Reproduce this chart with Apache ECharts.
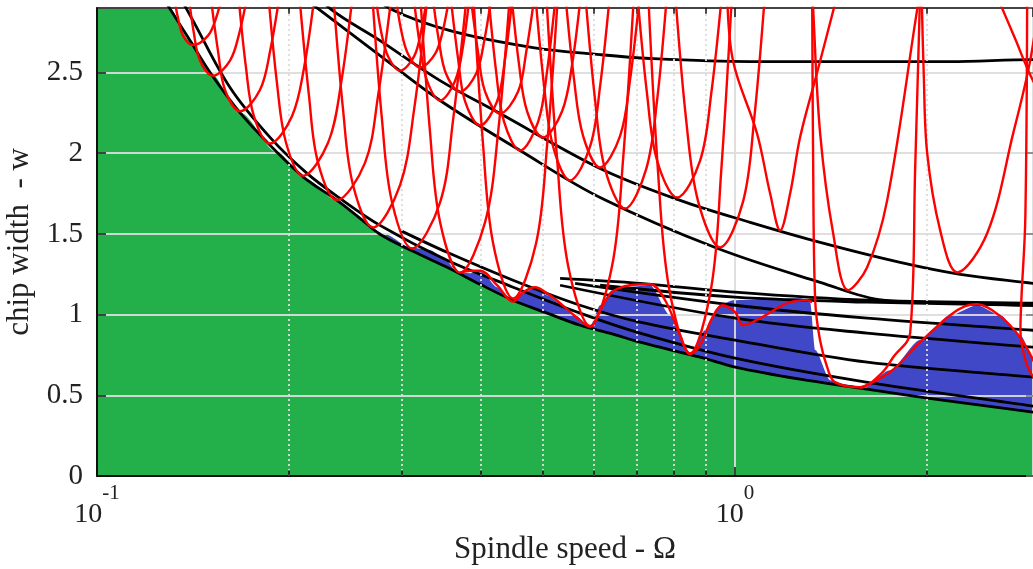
<!DOCTYPE html>
<html>
<head>
<meta charset="utf-8">
<script src="https://cdn.jsdelivr.net/npm/echarts@6/dist/echarts.min.js"></script>
<style>
html, body { margin: 0; padding: 0; background: #fff; }
#chart { width: 1033px; height: 569px; }
</style>
</head>
<body>
<div id="chart"></div>
<script>
// stability chart: spindle speed (log) vs chip width
var xMin = 0.1, xMax = 2.93, yMin = 0, yMax = 2.9, yStep = 0.5;
var minorX = [0.2, 0.3, 0.4, 0.5, 0.6, 0.7, 0.8, 0.9, 2];

// lower stability boundary (green below it)
var envelope = [[0.1253,3.0],[0.1301,2.896],[0.1399,2.698],[0.1504,2.5],[0.1675,2.252],[0.1916,2.005],[0.2118,1.844],[0.2378,1.708],[0.2584,1.597],[0.2777,1.498],[0.3128,1.392],[0.3537,1.293],[0.3984,1.188],[0.4487,1.089],[0.5074,1.009],[0.5716,0.934],[0.6438,0.879],[0.7098,0.829],[0.8814,0.736],[1.0,0.675],[1.264,0.600],[1.570,0.545],[2.0,0.483],[2.421,0.439],[2.93,0.396],[3.0,0.392]];

// top of the blue band
var blueTop = [[0.2448,1.634],[0.2650,1.547],[0.2828,1.498],[0.3095,1.417],[0.3326,1.399],[0.3486,1.355],[0.3680,1.262],[0.3843,1.256],[0.4013,1.262],[0.4236,1.170],[0.4488,1.089],[0.4653,1.132],[0.4859,1.170],[0.5074,1.120],[0.5318,1.071],[0.5614,0.996],[0.5926,0.928],[0.6144,1.058],[0.6416,1.151],[0.6724,1.170],[0.7359,1.182],[0.7910,0.996],[0.8502,0.749],[0.8975,0.903],[0.9474,1.058],[0.9929,1.089],[1.2645,1.101],[1.3110,1.077],[1.3349,0.780],[1.4091,0.594],[1.570,0.532],[1.750,0.656],[1.950,0.842],[2.173,0.996],[2.395,1.058],[2.603,0.996],[2.798,0.873],[2.932,0.736],[3.062,0.625]];

// black curves
var curveB2 = [[0.1335,3.0],[0.1414,2.822],[0.1616,2.407],[0.1867,2.098],[0.2134,1.875],[0.2404,1.72],[0.2777,1.553],[0.3537,1.337],[0.4488,1.17],[0.5716,1.009],[0.7098,0.885],[1.0,0.73],[1.57,0.588],[2.932,0.433],[3.007,0.427]];
var curveB3 = [[0.2985,1.522],[0.3537,1.386],[0.4488,1.213],[0.5716,1.058],[0.7098,0.953],[1.0,0.842],[1.6105,0.705],[2.932,0.613],[3.007,0.606]];
var fan1 = [[0.5318,1.225],[0.7098,1.194],[1.0,1.139],[1.6105,1.089],[2.932,1.071],[3.007,1.07]];
var fan2 = [[0.6144,1.182],[1.0,1.108],[1.6105,1.077],[2.932,1.058],[3.007,1.057]];
var fan3 = [[0.5614,1.194],[1.0,1.058],[1.6105,0.978],[2.932,0.903],[3.007,0.9]];
var fan4 = [[0.5318,1.182],[1.0,0.978],[1.6105,0.885],[2.932,0.798],[3.007,0.795]];
var curveU1 = [[0.2220,3.0],[0.2319,2.896],[0.2777,2.698],[0.3449,2.45],[0.4282,2.246],[0.6144,1.906],[0.82,1.708],[1.0557,1.572],[1.3592,1.448],[1.8142,1.324],[2.2528,1.25],[2.932,1.194],[3.007,1.188]];
var curveU2 = [[0.2051,3.0],[0.2220,2.896],[0.2777,2.605],[0.3449,2.327],[0.4603,2.017],[0.6144,1.726],[0.9372,1.411],[1.3592,1.2],[1.7062,1.089],[2.2528,1.071],[2.932,1.058],[3.007,1.058]];
var curveT1 = [[0.2679,3.0],[0.2879,2.896],[0.3575,2.76],[0.4824,2.655],[0.6144,2.611],[0.7359,2.587],[1.0557,2.568],[1.5146,2.568],[2.173,2.568],[2.932,2.58],[3.007,2.58]];

// red lobes whose minima sit on the lower boundary
var mainLobes = [
  [[0.1316,3.0],[0.1340,2.835],[0.1364,2.729],[0.1414,2.67],[0.1493,2.729],[0.1536,2.835],[0.1576,3.0]],
  [[0.1389,3.0],[0.1419,2.74],[0.1450,2.574],[0.1520,2.48],[0.1616,2.574],[0.1670,2.74],[0.1725,3.0]],
  [[0.1504,3.0],[0.1548,2.63],[0.1587,2.393],[0.1676,2.26],[0.1801,2.393],[0.1867,2.63],[0.1936,3.0]],
  [[0.1664,3.0],[0.1712,2.53],[0.1762,2.229],[0.1867,2.06],[0.2021,2.229],[0.2111,2.53],[0.2196,3.0]],
  [[0.1854,3.0],[0.1915,2.43],[0.1978,2.065],[0.2103,1.86],[0.2302,2.065],[0.2412,2.43],[0.2519,3.0]],
  [[0.2073,3.0],[0.2149,2.355],[0.2220,1.942],[0.2378,1.71],[0.2631,1.942],[0.2757,2.355],[0.2900,3.0]],
  [[0.2344,3.0],[0.2430,2.27],[0.2519,1.803],[0.2708,1.54],[0.2985,1.803],[0.3140,2.27],[0.3302,3.0]],
  [[0.2698,3.0],[0.2797,2.205],[0.2900,1.696],[0.3117,1.41],[0.3449,1.696],[0.3614,2.205],[0.3802,3.0]],
  [[0.3208,3.0],[0.3326,2.13],[0.3449,1.573],[0.3707,1.26],[0.4057,1.573],[0.4252,2.13],[0.4440,3.0]],
  [[0.3885,3.0],[0.4028,2.05],[0.4176,1.442],[0.4488,1.10],[0.4877,1.442],[0.5074,2.05],[0.5280,3.0]],
  [[0.5056,3.0],[0.5261,1.965],[0.5474,1.303],[0.5926,0.93],[0.6416,1.303],[0.6676,1.965],[0.6946,3.0]],
  [[0.7306,3.0],[0.7574,1.88],[0.7881,1.163],[0.8502,0.76],[0.9171,1.163],[0.9508,1.88],[0.9893,3.0]],
  [[1.3205,3.0],[1.325,2.0],[1.335,1.09],[1.359,0.84],[1.399,0.656],[1.435,0.58],[1.570,0.55],[1.70,0.64],[1.769,0.736],[1.881,0.885],[1.915,1.9],[1.950,3.0]],
  [[2.869,3.0],[2.85,1.6],[2.81,1.1],[2.80,0.9],[2.86,0.70],[2.95,0.6],[3.05,0.56]]
];
// red lobes touching curve U1
var upperLobesA = [
  [[0.2932,3.0],[0.2996,2.765],[0.3072,2.615],[0.3208,2.531],[0.3387,2.615],[0.3486,2.765],[0.3575,3.0]],
  [[0.3350,3.0],[0.3436,2.691],[0.3524,2.493],[0.3707,2.382],[0.3927,2.493],[0.4042,2.691],[0.4161,3.0]],
  [[0.3843,3.0],[0.3956,2.623],[0.4057,2.382],[0.4282,2.246],[0.4570,2.382],[0.4704,2.623],[0.4859,3.0]],
  [[0.4456,3.0],[0.4586,2.549],[0.4721,2.260],[0.5001,2.098],[0.5356,2.260],[0.5553,2.549],[0.5737,3.0]],
  [[0.5415,3.0],[0.5593,2.456],[0.5778,2.108],[0.6144,1.912],[0.6604,2.108],[0.6846,2.456],[0.7098,3.0]],
  [[0.7022,3.0],[0.7280,2.363],[0.7547,1.955],[0.8112,1.726],[0.8814,1.955],[0.9171,2.363],[0.9543,3.0]],
  [[0.9717,3.0],[0.9929,2.57],[1.0828,2.12],[1.1348,1.75],[1.1765,1.522],[1.2197,1.75],[1.2645,2.10],[1.3445,2.5],[1.4504,3.0]],
  [[1.96,3.0],[1.975,2.5],[2.0,2.0],[2.096,1.522],[2.2285,1.262],[2.4834,1.504],[2.7278,2.123],[2.9003,2.574],[3.007,3.0]]
];
// red lobes touching curve U2
var upperLobesB = [
  [[0.2727,3.0],[0.2787,2.756],[0.2859,2.6],[0.2985,2.512],[0.3140,2.6],[0.3220,2.756],[0.3302,3.0]],
  [[0.3128,3.0],[0.3208,2.664],[0.3291,2.448],[0.3449,2.327],[0.3640,2.448],[0.3747,2.664],[0.3843,3.0]],
  [[0.3575,3.0],[0.3680,2.586],[0.3774,2.321],[0.3984,2.172],[0.4236,2.321],[0.4360,2.586],[0.4488,3.0]],
  [[0.4101,3.0],[0.4221,2.509],[0.4345,2.194],[0.4603,2.017],[0.4912,2.194],[0.5074,2.509],[0.5242,3.0]],
  [[0.4859,3.0],[0.5020,2.416],[0.5185,2.042],[0.5513,1.832],[0.5926,2.042],[0.6144,2.416],[0.6370,3.0]],
  [[0.5820,3.0],[0.6034,2.329],[0.6256,1.9],[0.6724,1.658],[0.7253,1.9],[0.7547,2.329],[0.7825,3.0]],
  [[0.8054,3.0],[0.8380,2.209],[0.8751,1.702],[0.9474,1.417],[1.0294,1.702],[1.0711,2.209],[1.1145,3.0]],
  [[1.323,3.0],[1.3253,2.896],[1.3592,2.123],[1.4245,1.504],[1.5037,1.151],[1.6105,1.293],[1.7310,1.708],[1.93,2.896],[1.95,3.0]],
  [[2.556,3.0],[2.74,2.72],[2.93,2.45],[3.1,2.3]]
];
// red humps along the blue band
var flipLobes = [
  [[0.3707,1.26],[0.3850,1.272],[0.3984,1.272],[0.4236,1.182],[0.4488,1.08],[0.4653,1.139],[0.4859,1.170],[0.5074,1.132],[0.5318,1.071],[0.5614,0.990],[0.5926,0.925],[0.6144,1.027],[0.6416,1.139],[0.6846,1.182],[0.7359,1.188],[0.7768,1.089],[0.8200,0.873],[0.8502,0.755],[0.8814,0.811],[0.9204,0.978],[0.9543,1.058],[1.0,1.015],[1.0294,0.934],[1.0945,0.978],[1.2066,1.071],[1.2969,1.089],[1.3205,1.077]],
  [[1.570,0.545],[1.750,0.644],[1.950,0.829],[2.173,0.996],[2.294,1.052],[2.395,1.064],[2.529,1.027],[2.698,0.934],[2.848,0.811],[3.007,0.625]]
];

var FONT = '"Liberation Serif", "Times New Roman", serif';
var GRID = 'rgba(220,220,220,0.92)';
var GREEN = '#23b04b';
var BLUE = '#4048c8';

function curve(data, color, width, z) {
  return {
    type: 'line', data: data, smooth: 0.35, symbol: 'none', silent: true,
    lineStyle: { color: color, width: width }, z: z
  };
}

var series = [];
series.push({
  type: 'line', data: blueTop, smooth: 0.25, smoothMonotone: 'x', symbol: 'none', silent: true,
  lineStyle: { width: 0 }, areaStyle: { color: BLUE, opacity: 1 }, z: 1
});
series.push({
  type: 'line', data: [[xMin, 3.0]].concat(envelope), smooth: 0.3, smoothMonotone: 'x', symbol: 'none', silent: true,
  lineStyle: { width: 0 }, areaStyle: { color: GREEN, opacity: 1 }, z: 1
});
// dotted minor grid
series.push({
  type: 'line', data: [], z: 3, silent: true,
  markLine: {
    symbol: 'none', silent: true, animation: false, label: { show: false },
    lineStyle: { color: GRID, width: 2, type: [2, 3] },
    data: minorX.map(function (v) { return { xAxis: v }; })
  }
});

[curveT1, curveU1, curveU2, curveB3, fan1, fan2, fan3, fan4, curveB2, envelope].forEach(function (d) {
  series.push(curve(d, '#000', 2.8, 4));
});
mainLobes.concat(upperLobesA, upperLobesB, flipLobes).forEach(function (d) {
  series.push(curve(d, '#ff0000', 2.4, 5));
});

// minor tick marks on bottom and top edges
var tickSegs = [];
minorX.forEach(function (v) {
  tickSegs.push([{ coord: [v, yMin] }, { coord: [v, yMin + 0.035] }]);
  tickSegs.push([{ coord: [v, yMax] }, { coord: [v, yMax - 0.035] }]);
});
series.push({
  type: 'line', data: [], z: 8, silent: true,
  markLine: {
    symbol: 'none', silent: true, animation: false, label: { show: false },
    lineStyle: { color: '#111', width: 1.5, type: 'solid' },
    data: tickSegs
  }
});

var chart = echarts.init(document.getElementById('chart'));
chart.setOption({
  animation: false,
  backgroundColor: '#fff',
  grid: { left: 97, right: 0, top: 8, bottom: 93, containLabel: false, outerBoundsMode: 'none' },
  xAxis: [
    {
      type: 'log', logBase: 10, min: xMin, max: xMax, position: 'bottom', z: 3,
      name: 'Spindle speed - \u03A9', nameLocation: 'middle', nameGap: 57,
      nameTextStyle: { fontFamily: FONT, fontSize: 31, color: '#222' },
      axisLine: { show: true, onZero: false, lineStyle: { color: '#111', width: 2 } },
      axisTick: { show: true, inside: true, length: 9, lineStyle: { color: '#111', width: 1.5 } },
      splitLine: { show: true, lineStyle: { color: GRID, width: 2 } },
      axisLabel: {
        margin: 7, showMaxLabel: false,
        formatter: function (v) {
          var e = Math.round(Math.log(v) / Math.LN10);
          return '{b|10}{s|' + e + '}';
        },
        rich: {
          b: { fontFamily: FONT, fontSize: 28, color: '#222', lineHeight: 28, verticalAlign: 'bottom' },
          s: { fontFamily: FONT, fontSize: 21, color: '#222', verticalAlign: 'top', padding: [0, 0, 25, 0] }
        }
      }
    },
    {
      type: 'log', logBase: 10, min: xMin, max: xMax, position: 'top', z: 3,
      axisLine: { show: true, onZero: false, lineStyle: { color: '#111', width: 1.5 } },
      axisTick: { show: true, inside: true, length: 9, lineStyle: { color: '#111', width: 1.5 } },
      axisLabel: { show: false }, splitLine: { show: false }
    }
  ],
  yAxis: [
    {
      type: 'value', min: yMin, max: yMax, interval: yStep, position: 'left', z: 3,
      name: 'chip width  - w', nameLocation: 'middle', nameGap: 58,
      nameTextStyle: { fontFamily: FONT, fontSize: 31, color: '#222' },
      axisLine: { show: true, lineStyle: { color: '#111', width: 2 } },
      axisTick: { show: true, inside: true, length: 9, lineStyle: { color: '#111', width: 1.5 } },
      splitLine: { show: true, lineStyle: { color: GRID, width: 2 } },
      axisLabel: { margin: 14, showMaxLabel: false, fontFamily: FONT, fontSize: 29, color: '#222' }
    },
    {
      type: 'value', min: yMin, max: yMax, interval: yStep, position: 'right', z: 3,
      axisLine: { show: false },
      axisTick: { show: true, inside: true, length: 7, lineStyle: { color: '#777', width: 1.5 } },
      axisLabel: { show: false }, splitLine: { show: false }
    }
  ],
  series: series
});
</script>
</body>
</html>
